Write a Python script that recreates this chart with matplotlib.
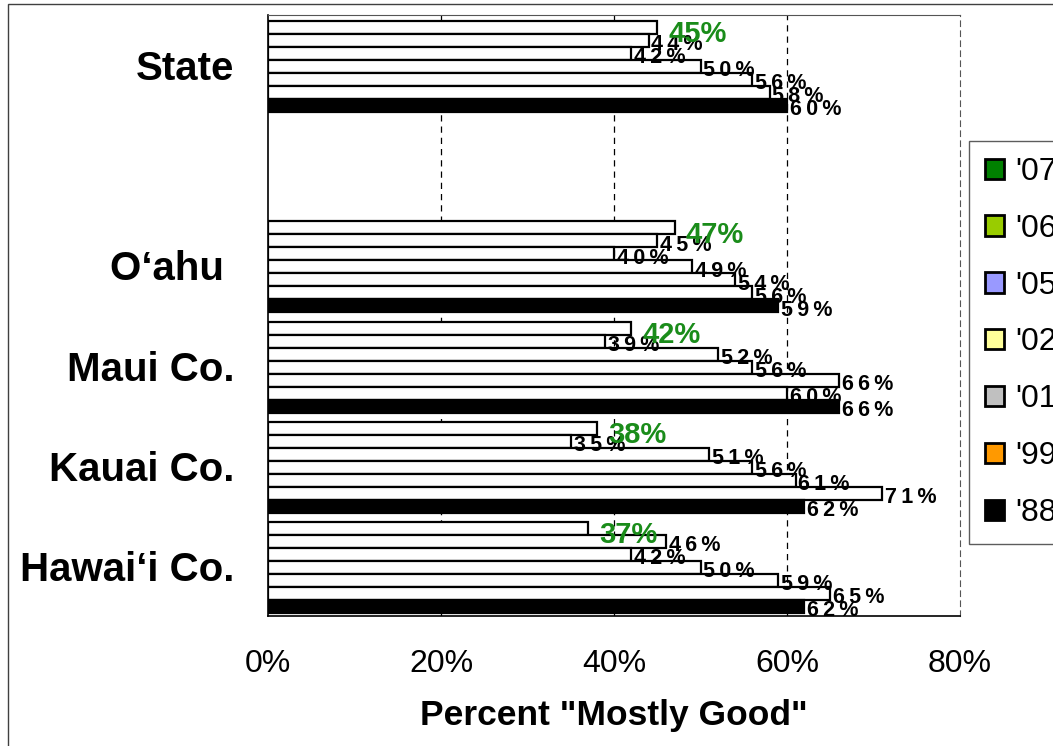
import numpy as np
import matplotlib
matplotlib.use('Agg')
import matplotlib.pyplot as plt
from matplotlib.patches import Patch, Rectangle

plt.rcParams['font.family'] = ['Liberation Sans', 'DejaVu Sans']

# Data
regions = ['State', '', 'O\u2018ahu ', 'Maui Co.', 'Kauai Co.', 'Hawai\u2018i Co.']
years = ["'07", "'06", "'05", "'02", "'01", "'99", "'88"]
legend_colors = ['#008000', '#99CC00', '#9999FF', '#FFFF99', '#C0C0C0', '#FF9900', '#000000']

# values per year, regions in order State, O'ahu, Maui, Kauai, Hawai'i
v07 = [45, 47, 42, 38, 37]
v06 = [44, 45, 39, 35, 46]
v05 = [42, 40, 52, 51, 42]
v02 = [50, 49, 56, 56, 50]
v01 = [56, 54, 66, 61, 59]
v99 = [58, 56, 60, 71, 65]
v88 = [60, 59, 66, 62, 62]
series = [v07, v06, v05, v02, v01, v99, v88]

# slot index for each region with data (slot 1 is empty)
slots = np.array([0, 2, 3, 4, 5])

fig = plt.figure(figsize=(10.53, 7.46), dpi=100)
ax = fig.add_axes([268/1053, 1-616/746, (960-268)/1053, (616-15)/746])

bar_h = 0.13
for i, vals in enumerate(series):
    y = slots - 3.5*bar_h + (i + 0.5)*bar_h + 0.015
    fill = 'black' if years[i] == "'88" else 'white'
    ax.barh(y, vals, height=bar_h, color=fill, edgecolor='black', linewidth=1.6, zorder=3)
    for yy, v in zip(y, vals):
        if i == 0:
            ax.annotate(f'{v}%', (v, yy), xytext=(8, -5), textcoords='offset points',
                        ha='left', va='center', color='#1A8C1A', fontsize=21,
                        fontweight='bold', zorder=5)
        else:
            ax.annotate('\u2009'.join(f'{v}%'), (v, yy), xytext=(2, -3), textcoords='offset points',
                        ha='left', va='center', color='black', fontsize=15.5,
                        fontweight='bold', zorder=4)

ax.set_xlim(0, 80)
ax.set_ylim(5.5, -0.5)
ax.set_xticks([0, 20, 40, 60, 80])
ax.set_xticklabels(['0%', '20%', '40%', '60%', '80%'], fontsize=23)
ax.set_yticks(range(len(regions)))
ax.set_yticklabels(regions, fontsize=29, fontweight='bold')
ax.tick_params(axis='both', length=0)
ax.tick_params(axis='y', pad=24)
ax.tick_params(axis='x', pad=24)

for x in [20, 40, 60]:
    ax.axvline(x, color='black', linestyle=(0, (5, 4)), linewidth=0.9, zorder=1)
ax.spines['right'].set_linestyle((0, (5, 4)))
ax.spines['right'].set_color('#555555')
ax.spines['top'].set_color('#555555')
for s in ['left', 'bottom']:
    ax.spines[s].set_color('black')
    ax.spines[s].set_linewidth(1.2)

ax.set_xlabel('Percent "Mostly Good"', fontsize=25.5, fontweight='bold', labelpad=14)

handles = [Patch(facecolor=c, edgecolor='black', linewidth=2) for c in legend_colors]
fig.legend(handles, years, loc='upper left', bbox_to_anchor=(969/1053, 1-141/746),
           borderaxespad=0, frameon=True, fancybox=False, edgecolor='#333333',
           fontsize=23, handlelength=0.6, handleheight=0.6, labelspacing=0.84,
           borderpad=0.5, handletextpad=0.35)

# outer chart border
fig.patches.append(Rectangle((8/1053, -0.05), 1.1, 1.05 - 4/746, transform=fig.transFigure,
                             fill=False, edgecolor='#404040', linewidth=1))

fig.savefig('out.png', dpi=100)
